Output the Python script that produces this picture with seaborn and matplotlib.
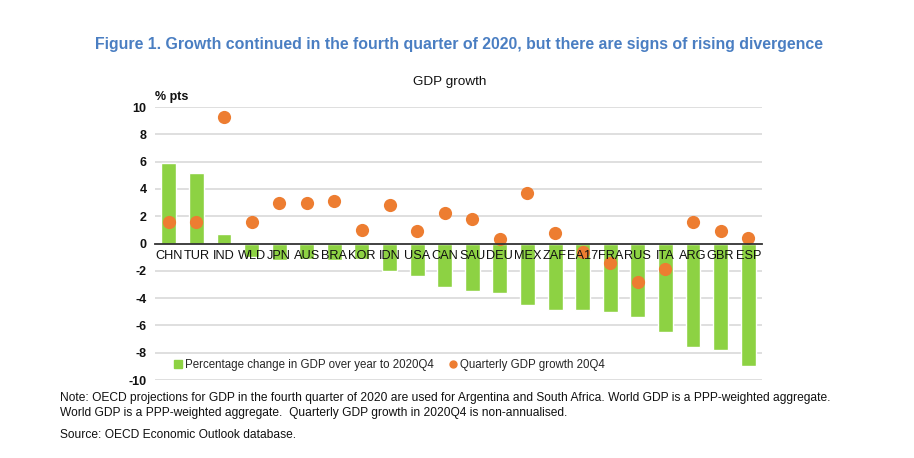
import matplotlib
matplotlib.use("Agg")
import matplotlib.pyplot as plt
from matplotlib.lines import Line2D
import seaborn as sns
import pandas as pd

categories = ["CHN", "TUR", "IND", "WLD", "JPN", "AUS", "BRA", "KOR", "IDN", "USA", "CAN",
              "SAU", "DEU", "MEX", "ZAF", "EA17", "FRA", "RUS", "ITA", "ARG", "GBR", "ESP"]
annual_change = [5.9, 5.2, 0.7, -1.0, -1.2, -1.1, -1.2, -1.1, -2.0, -2.4, -3.2,
                 -3.5, -3.6, -4.5, -4.9, -4.9, -5.0, -5.4, -6.5, -7.6, -7.8, -9.0]
quarterly_growth = [1.6, 1.6, 9.3, 1.6, 3.0, 3.0, 3.1, 1.0, 2.8, 0.9, 2.2,
                    1.8, 0.3, 3.7, 0.8, -0.6, -1.4, -2.8, -1.9, 1.6, 0.9, 0.4]
yticks = [-10, -8, -6, -4, -2, 0, 2, 4, 6, 8, 10]

title = "Figure 1. Growth continued in the fourth quarter of 2020, but there are signs of rising divergence"
subtitle = "GDP growth"
unit = "% pts"
bar_label = "Percentage change in GDP over year to 2020Q4"
dot_label = "Quarterly GDP growth 20Q4"
notes = [
    "Note: OECD projections for GDP in the fourth quarter of 2020 are used for Argentina and South Africa. World GDP is a PPP-weighted aggregate.",
    "World GDP is a PPP-weighted aggregate.  Quarterly GDP growth in 2020Q4 is non-annualised.",
    "Source: OECD Economic Outlook database.",
]

GREEN = "#8DD243"
ORANGE = "#ED7D31"
BLUE = "#4A7EC2"

sns.set_theme(style="white")
plt.rcParams["font.family"] = ["Liberation Sans", "DejaVu Sans"]

df = pd.DataFrame({"cat": categories, "annual": annual_change, "q": quarterly_growth})

fig = plt.figure(figsize=(9.14, 4.58), dpi=100)
ax = fig.add_axes([0.1696, 0.1703, 0.6641, 0.596])

sns.barplot(data=df, x="cat", y="annual", color=GREEN, saturation=1, width=0.54,
            ax=ax, zorder=2)
sns.stripplot(data=df, x="cat", y="q", color=ORANGE, jitter=False, size=9.5,
              linewidth=0, ax=ax, zorder=3)

ax.set_ylim(-10, 10)
ax.set_xlim(-0.5, len(categories) - 0.5)
ax.set_yticks(yticks)
ax.set_yticklabels([str(v) for v in yticks], fontsize=9, fontweight="bold", color="#111111")
ax.tick_params(axis="y", length=0, pad=6)
for v in yticks:
    if v != 0:
        ax.axhline(v, color="#D9D9D9", lw=1.2, zorder=0)

for s in ["top", "right", "left"]:
    ax.spines[s].set_visible(False)
ax.spines["bottom"].set_position(("data", 0))
ax.spines["bottom"].set_color("#333333")
ax.spines["bottom"].set_linewidth(1.3)
ax.spines["bottom"].set_zorder(4)
ax.set_xticks([i - 0.5 for i in range(len(categories) + 1)])
ax.set_xticklabels([])
ax.tick_params(axis="x", direction="in", length=4, width=1.2, color="#333333")
ax.set_xlabel("")
ax.set_ylabel("")

for i, c in enumerate(categories):
    ax.text(i, -0.5, c, ha="center", va="top", fontsize=9.2, color="#111111", zorder=5)

handles = [
    Line2D([], [], marker="s", color=GREEN, linestyle="none", markersize=5.5),
    Line2D([], [], marker="o", color=ORANGE, linestyle="none", markersize=5),
]
ax.legend(handles, [bar_label, dot_label], loc="center left",
          bbox_to_anchor=(0.012, 0.055), ncol=2, frameon=False, fontsize=8.3,
          handletextpad=0.1, columnspacing=1.1, handlelength=1.0)

fig.text(0.502, 0.903, title, ha="center", va="center", fontsize=11.4,
         fontweight="bold", color=BLUE)
fig.text(0.492, 0.820, subtitle, ha="center", va="center", fontsize=9.7, color="#111111")
ax.text(0.0, 1.035, unit, transform=ax.transAxes, ha="left", va="center",
        fontsize=9, fontweight="bold", color="#111111")

ys = [0.132, 0.098, 0.050]
for y, t in zip(ys, notes):
    fig.text(0.066, y, t, ha="left", va="center", fontsize=8.65, color="#111111")

fig.savefig("out.png", dpi=100)
